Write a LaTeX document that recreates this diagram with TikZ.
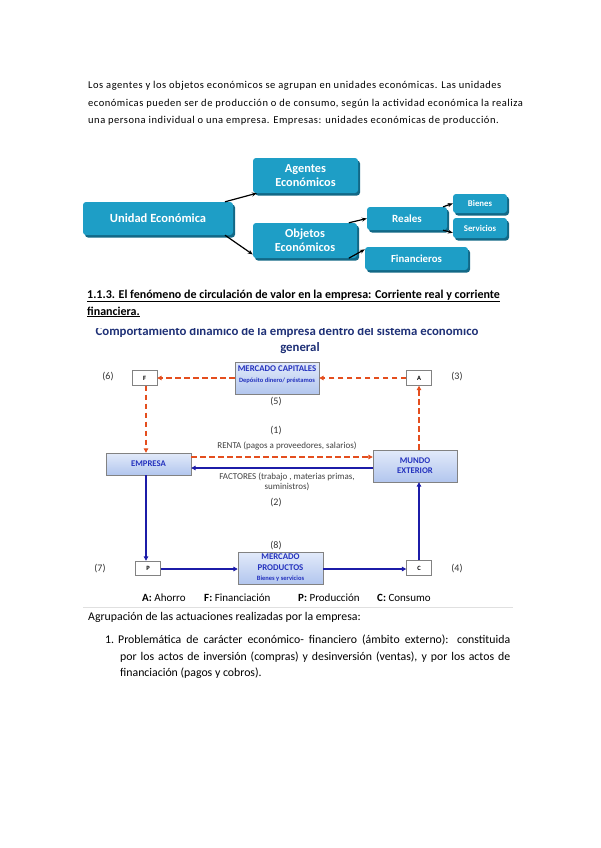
\documentclass[tikz,border=0pt]{standalone}
\usepackage{fontspec}
\setmainfont{Carlito}
\usetikzlibrary{positioning,arrows.meta,shadows}

\definecolor{azulsa}{RGB}{30,158,198}
\definecolor{azulso}{RGB}{18,104,134}
\definecolor{rojoflu}{RGB}{228,78,30}
\definecolor{azulflu}{RGB}{28,28,168}
\definecolor{azultit}{RGB}{30,48,118}
\definecolor{azultxt}{RGB}{36,50,190}
\definecolor{cajaclara}{RGB}{226,234,250}
\definecolor{cajaosc}{RGB}{178,198,238}
\definecolor{bordegris}{RGB}{130,130,130}

\tikzset{
  unidad/.style={fill=azulsa, text=white, font=\bfseries, rounded corners=3pt,
    align=center, inner sep=0pt,
    drop shadow={shadow xshift=2pt, shadow yshift=-2.5pt, fill=azulso, opacity=1}},
  flechanegra/.style={-{Stealth[length=5pt,width=4pt]}, line width=1.2pt},
  caja/.style={draw=bordegris, top color=cajaclara, bottom color=cajaosc,
    text=azultxt, font=\fontsize{8.7}{10}\selectfont\bfseries, align=center, inner sep=1pt},
  letra/.style={draw=bordegris, fill=white, font=\fontsize{6.5}{7}\selectfont\bfseries,
    minimum width=25pt, minimum height=15pt, inner sep=0pt},
  rojo/.style={draw=rojoflu, dashed, dash pattern=on 5.5pt off 3.5pt, line width=1.5pt,
    -{Triangle[length=4.5pt,width=4.5pt]}},
  azul/.style={draw=azulflu, line width=1.6pt, -{Triangle[length=4.5pt,width=4.5pt]}},
  numero/.style={font=\fontsize{10}{11}\selectfont, text=black!80},
  flujo/.style={font=\fontsize{9}{10}\selectfont, text=black!75, align=center},
  leyenda/.style={font=\fontsize{11}{12}\selectfont, anchor=west, inner sep=0pt},
  cuerpo/.style={anchor=west, font=\fontsize{10.5}{12}\selectfont\addfontfeatures{LetterSpace=5}, inner sep=0pt},
  final/.style={anchor=west, font=\fontsize{11.8}{13}\selectfont, inner sep=0pt}
}
\newcommand{\grande}{\fontsize{8.8}{10}\selectfont\bfseries}
\newcommand{\chica}{\fontsize{6.5}{7}\selectfont\bfseries}

\begin{document}
\begin{tikzpicture}[x=1pt, y=-1pt]
\useasboundingbox (0,0) rectangle (600,848);

% Parrafo inicial
\node[cuerpo] (p1) at (88,86) {Los agentes y los objetos económicos se agrupan en unidades económicas. Las unidades};
\node[cuerpo] (p2) at (88,104) {económicas pueden ser de producción o de consumo, según la actividad económica la realiza};
\node[cuerpo] (p3) at (88,121) {una persona individual o una empresa. Empresas: unidades económicas de producción.};

% Esquema de la unidad economica
\node[unidad, minimum width=150pt, minimum height=33pt, font=\fontsize{12.5}{13}\selectfont\bfseries] (unid) at (158,218.5) {Unidad Económica};
\node[unidad, minimum width=105pt, minimum height=35pt, font=\fontsize{12.3}{14}\selectfont\bfseries] (agen) at (305.5,175.5) {Agentes\\Económicos};
\node[unidad, minimum width=104pt, minimum height=35pt, font=\fontsize{12.3}{14}\selectfont\bfseries] (obje) at (305,240.5) {Objetos\\Económicos};
\node[unidad, minimum width=80pt, minimum height=23pt, font=\fontsize{11}{12}\selectfont\bfseries] (real) at (407,218.5) {Reales};
\node[unidad, minimum width=103pt, minimum height=23pt, font=\fontsize{10.8}{12}\selectfont\bfseries] (fina) at (416.5,258.5) {Financieros};
\node[unidad, minimum width=54pt, minimum height=19pt, font=\fontsize{8.8}{10}\selectfont\bfseries] (bien) at (480,203.5) {Bienes};
\node[unidad, minimum width=54pt, minimum height=20pt, font=\fontsize{8.8}{10}\selectfont\bfseries] (serv) at (480,228) {Servicios};

\draw[flechanegra] (unid.14) -- (agen.200);
\draw[flechanegra] (unid.-14) -- (obje.195);
\draw[flechanegra] (obje.22) -- (real.west);
\draw[flechanegra] (obje.-22) -- (fina.170);
\draw[flechanegra] (real.18) -- (bien.west);
\draw[flechanegra] (real.-18) -- (serv.190);

% Titulo del apartado
\node[anchor=west, inner sep=0pt, font=\fontsize{12}{13}\selectfont\bfseries] (tit1) at (87,296) {\underline{1.1.3. El fenómeno de circulación de valor en la empresa: Corriente real y corriente}};
\node[anchor=west, inner sep=0pt, font=\fontsize{12}{13}\selectfont\bfseries] (tit2) at (87,312) {\underline{financiera.}};

% Titulo del esquema (recortado arriba)
\begin{scope}
  \clip (80,328) rectangle (520,360);
  \node[font=\fontsize{12.8}{14}\selectfont\bfseries, text=azultit] (comp) at (287,332) {Comportamiento dinámico de la empresa dentro del sistema económico};
\end{scope}
\node[font=\fontsize{12.8}{14}\selectfont\bfseries, text=azultit] (gene) at (300,348) {general};

% Cajas del circuito
\node[caja, minimum width=84pt, minimum height=32pt] (mcap) at (277,378) {};
\node[text=azultxt, align=center, inner sep=0pt] (mcapt) at (277,375) {{\grande MERCADO CAPITALES}\\[-1pt]{\chica Depósito dinero/ préstamos}};
\node[letra] (nf) at (144.5,378) {F};
\node[letra] (na) at (419,378) {A};
\node[caja, minimum width=85pt, minimum height=22pt] (empr) at (148.5,464) {EMPRESA};
\node[caja, minimum width=84pt, minimum height=32pt] (mund) at (415,466) {MUNDO\\EXTERIOR};
\node[letra, minimum height=14pt] (np) at (148,568) {P};
\node[caja, minimum width=85pt, minimum height=32pt] (mpro) at (280.5,568) {};
\node[text=azultxt, align=center, inner sep=0pt] (mprot) at (280.5,567.5) {{\grande MERCADO}\\[-1pt]{\grande PRODUCTOS}\\[-2pt]{\chica Bienes y servicios}};
\node[letra] (nc) at (419,568) {C};

% Numeros
\node[numero] (n6) at (108,377) {(6)};
\node[numero] (n3) at (457,377) {(3)};
\node[numero] (n5) at (276,402) {(5)};
\node[numero] (n1) at (276,431) {(1)};
\node[numero] (n2) at (276,503) {(2)};
\node[numero] (n8) at (276,546) {(8)};
\node[numero] (n7) at (100,569) {(7)};
\node[numero] (n4) at (457,569) {(4)};

% Textos de los flujos
\node[flujo] (rent) at (287,446) {RENTA (pagos a proveedores, salarios)};
\node[flujo] (fact) at (287,481.5) {FACTORES (trabajo , materias primas,\\suministros)};

% Corriente financiera
\draw[rojo] (mcap.west) -- (nf.east);
\draw[rojo] (na.west) -- (mcap.east);
\draw[rojo] ([xshift=1.5pt]nf.south) -- ([xshift=1.5pt]nf.south |- empr.north);
\draw[rojo] (na.south |- mund.north) -- (na.south);
\draw[rojo] ([yshift=7pt]empr.east) -- ([yshift=7pt]empr.east -| mund.west);

% Corriente real
\draw[azul] ([yshift=-2pt]mund.west) -- ([yshift=-2pt]mund.west -| empr.east);
\draw[azul] ([xshift=-2pt]np.north |- empr.south) -- ([xshift=-2pt]np.north);
\draw[azul] ([yshift=-1pt]np.east) -- ([yshift=-1pt]np.east -| mpro.west);
\draw[azul] ([yshift=-1pt]mpro.east) -- ([yshift=-1pt]mpro.east -| nc.west);
\draw[azul] (nc.north) -- (nc.north |- mund.south);

% Leyenda
\node[leyenda] (lega) at (142,598) {\textbf{A:} Ahorro};
\node[leyenda] (legf) at (204,598) {\textbf{F:} Financiación};
\node[leyenda] (legp) at (298,598) {\textbf{P:} Producción};
\node[leyenda] (legc) at (377,598) {\textbf{C:} Consumo};
\draw[black!12, line width=0.6pt] (83,607) -- (513,607);

% Texto final
\node[final] (agru) at (88,617) {Agrupación de las actuaciones realizadas por la empresa:};
\node[final] (num1) at (105,640) {1.};
\node[final] (l1) at (118,640) {\makebox[392pt][s]{Problemática de carácter económico- financiero (ámbito externo): constituida}};
\node[final] (l2) at (120,657) {\makebox[390pt][s]{por los actos de inversión (compras) y desinversión (ventas), y por los actos de}};
\node[final] (l3) at (120,673) {financiación (pagos y cobros).};

\end{tikzpicture}
\end{document}
